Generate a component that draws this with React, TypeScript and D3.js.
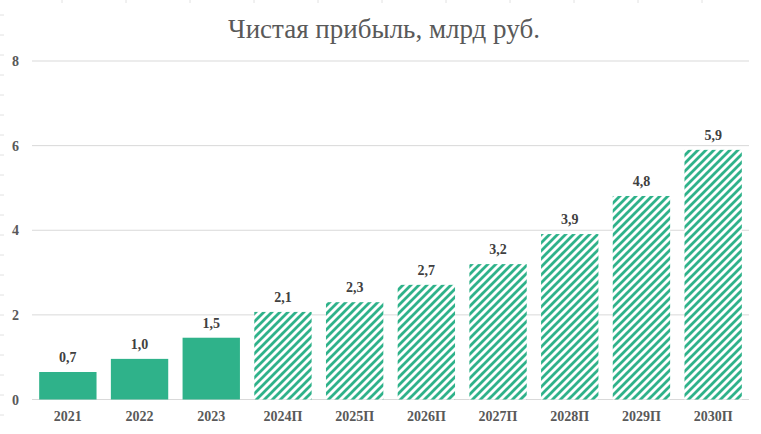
import React from "react";
import * as d3 from "d3";

const categories = ["2021", "2022", "2023", "2024П", "2025П", "2026П", "2027П", "2028П", "2029П", "2030П"];
const values = [0.65, 0.96, 1.46, 2.07, 2.3, 2.71, 3.2, 3.91, 4.81, 5.9];
const valueLabels = ["0,7", "1,0", "1,5", "2,1", "2,3", "2,7", "3,2", "3,9", "4,8", "5,9"];
const forecast = [false, false, false, true, true, true, true, true, true, true];
const yTicks = [0, 2, 4, 6, 8];
const title = "Чистая прибыль, млрд руб.";

const W = 761;
const H = 434;
const GREEN = "#2fb28a";
const FONT = "'Liberation Serif'";

export default function App() {
  const x = d3.scaleBand<string>().domain(categories).range([32, 749]).paddingInner(0.2).paddingOuter(0.1);
  const y = d3.scaleLinear().domain([0, 8]).range([399.5, 61]);

  const topTicks = d3.range(62, W, 64);
  const leftTicks = d3.range(15, H, 20);

  return (
    <svg width={W} height={H} style={{ position: "absolute", left: 0, top: 0, background: "#fff" }}>
      <defs>
        <pattern id="hatch" patternUnits="userSpaceOnUse" width={8} height={8}>
          <rect width={8} height={8} fill="#fff" />
          <path d="M-2,2 L2,-2 M0,8 L8,0 M6,10 L10,6" stroke={GREEN} strokeWidth={2.8} />
        </pattern>
      </defs>
      {topTicks.map((t) => (
        <line key={"tt" + t} x1={t} x2={t} y1={0} y2={3} stroke="#e2e2e2" strokeWidth={1} />
      ))}
      {leftTicks.map((t) => (
        <line key={"lt" + t} x1={0} x2={4} y1={t} y2={t} stroke="#e2e2e2" strokeWidth={1} />
      ))}
      <text x={384} y={38} textAnchor="middle" style={{ fontFamily: FONT }} fontSize={27} fill="#595959">
        {title}
      </text>
      {yTicks.map((t) => (
        <g key={"y" + t}>
          <line x1={32} x2={749} y1={y(t)} y2={y(t)} stroke="#d9d9d9" strokeWidth={1} />
          <text x={19} y={y(t) + 5} textAnchor="end" style={{ fontFamily: FONT }} fontWeight="bold" fontSize={14} fill="#595959">
            {t}
          </text>
        </g>
      ))}
      {categories.map((c, i) => {
        const bx = x(c)!;
        const by = y(values[i]);
        return (
          <g key={c}>
            <rect
              x={bx}
              y={by}
              width={x.bandwidth()}
              height={y(0) - by}
              fill={forecast[i] ? "url(#hatch)" : GREEN}
            />
            <text
              x={bx + x.bandwidth() / 2}
              y={by - 10}
              textAnchor="middle"
              style={{ fontFamily: FONT }}
              fontWeight="bold"
              fontSize={14}
              fill="#404040"
            >
              {valueLabels[i]}
            </text>
            <text
              x={bx + x.bandwidth() / 2}
              y={421}
              textAnchor="middle"
              style={{ fontFamily: FONT }}
              fontWeight="bold"
              fontSize={14}
              fill="#595959"
            >
              {c}
            </text>
          </g>
        );
      })}
    </svg>
  );
}
